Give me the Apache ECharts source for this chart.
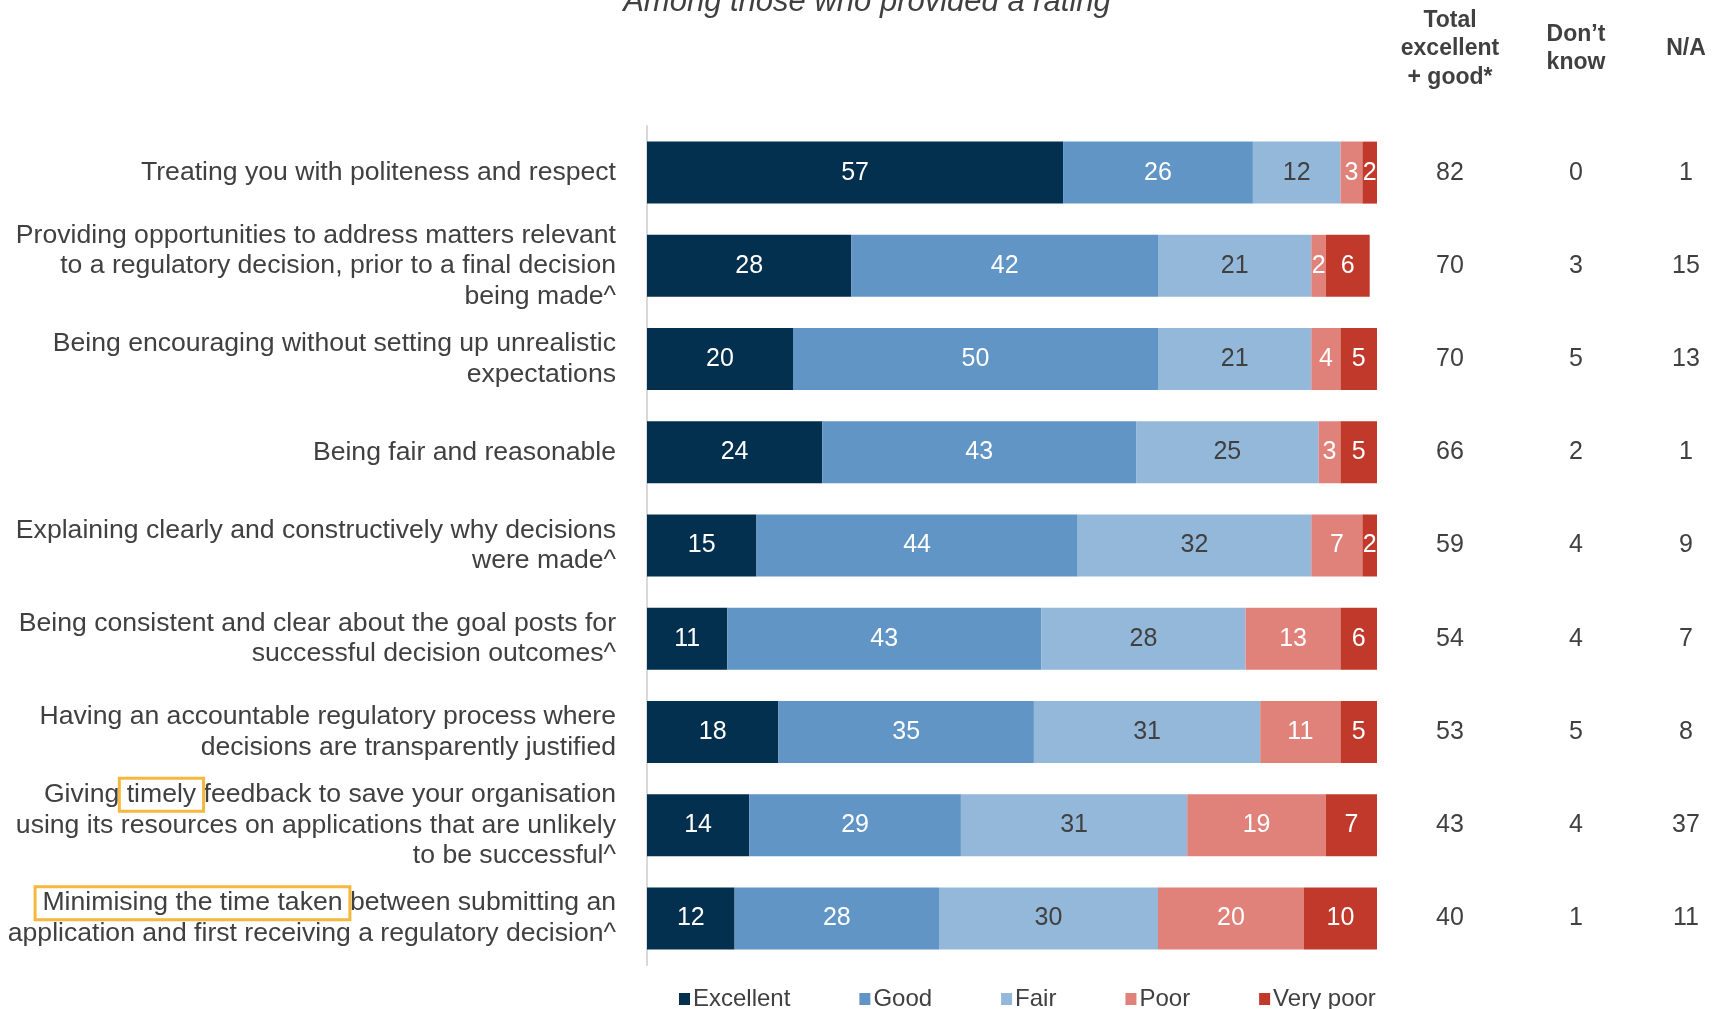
<!DOCTYPE html>
<html>
<head>
<meta charset="utf-8">
<script src="https://cdn.jsdelivr.net/npm/echarts@6/dist/echarts.min.js"></script>
<style>
  html, body { margin: 0; padding: 0; background: #ffffff; }
  #chart { width: 1721px; height: 1009px; }
</style>
</head>
<body>
<div id="chart"></div>
<script>
// Statements rated, top to bottom
const categories = [
  'Treating you with politeness and respect',
  'Providing opportunities to address matters relevant\nto a regulatory decision, prior to a final decision\nbeing made^',
  'Being encouraging without setting up unrealistic\nexpectations',
  'Being fair and reasonable',
  'Explaining clearly and constructively why decisions\nwere made^',
  'Being consistent and clear about the goal posts for\nsuccessful decision outcomes^',
  'Having an accountable regulatory process where\ndecisions are transparently justified',
  'Giving timely feedback to save your organisation\nusing its resources on applications that are unlikely\nto be successful^',
  'Minimising the time taken between submitting an\napplication and first receiving a regulatory decision^'
];

// Rating shares (%), among those who provided a rating
const excellent = [57, 28, 20, 24, 15, 11, 18, 14, 12];
const good      = [26, 42, 50, 43, 44, 43, 35, 29, 28];
const fair      = [12, 21, 21, 25, 32, 28, 31, 31, 30];
const poor      = [3, 2, 4, 3, 7, 13, 11, 19, 20];
const veryPoor  = [2, 6, 5, 5, 2, 6, 5, 7, 10];

// Side columns
const totalExcellentGood = [82, 70, 70, 66, 59, 54, 53, 43, 40];
const dontKnow           = [0, 3, 5, 2, 4, 4, 5, 4, 1];
const notApplicable      = [1, 15, 13, 1, 9, 7, 8, 37, 11];

const seriesNames = ['Excellent', 'Good', 'Fair', 'Poor', 'Very poor'];
const seriesValues = [excellent, good, fair, poor, veryPoor];
const seriesColors = ['#03304f', '#6095c6', '#94b8da', '#e0827a', '#c0392b'];
const labelColors = ['#ffffff', '#ffffff', '#404040', '#ffffff', '#ffffff'];

// Words outlined in the statement labels
const highlights = { 7: ' timely ', 8: ' Minimising the time taken ' };

const TEXT = '#404040';
const FONT = '"Liberation Sans", Arial, sans-serif';
const LABEL_SIZE = 26.6;

const chart = echarts.init(document.getElementById('chart'), null, { renderer: 'canvas' });

const GRID = { left: 647, top: 126, width: 730, height: 839 };
const gridRight = GRID.left + GRID.width;

function sideAxis(values, centerX) {
  return {
    type: 'category',
    inverse: true,
    position: 'right',
    data: values.map(String),
    axisLine: { show: false },
    axisTick: { show: false },
    splitLine: { show: false },
    axisLabel: {
      margin: centerX - gridRight,
      align: 'center',
      color: TEXT,
      fontFamily: FONT,
      fontSize: 25
    }
  };
}

const option = {
  backgroundColor: '#ffffff',
  animation: false,
  textStyle: { fontFamily: FONT },
  grid: GRID,
  legend: {
    data: seriesNames,
    left: 679,
    top: 987,
    padding: 0,
    itemGap: 69,
    itemWidth: 11,
    itemHeight: 12,
    icon: 'rect',
    textStyle: { color: TEXT, fontSize: 24, fontFamily: FONT, padding: [0, 0, 0, -2] }
  },
  xAxis: { type: 'value', min: 0, max: 100, show: false },
  yAxis: [
    {
      type: 'category',
      inverse: true,
      data: categories,
      axisLine: { show: true, lineStyle: { color: '#d9d9d9', width: 2 } },
      axisTick: { show: false },
      axisLabel: {
        margin: 31,
        align: 'right',
        color: TEXT,
        fontFamily: FONT,
        fontSize: LABEL_SIZE,
        lineHeight: 30.5,
        formatter: function (value, index) {
          const word = highlights[index];
          if (!word) return value;
          const plain = word.trim();
          const pos = value.indexOf(plain);
          // include the spaces around the word inside the outlined box
          return value.slice(0, pos).replace(/ $/, '') + '{hl|' + word + '}' +
                 value.slice(pos + plain.length).replace(/^ /, '');
        },
        rich: {
          hl: {
            color: TEXT,
            fontFamily: FONT,
            fontSize: LABEL_SIZE,
            lineHeight: 30.5,
            borderColor: '#f5b83d',
            borderWidth: 3,
            padding: [3, 0, 3, 0]
          }
        }
      }
    },
    sideAxis(totalExcellentGood, 1450),
    sideAxis(dontKnow, 1576),
    sideAxis(notApplicable, 1686)
  ],
  graphic: [
    {
      type: 'text', x: 867, y: -13,
      style: {
        text: 'Among those who provided a rating', fill: TEXT,
        font: 'italic 31px "Liberation Sans", Arial, sans-serif', textAlign: 'center', textVerticalAlign: 'top'
      }
    },
    {
      type: 'text', x: 1450, y: 6,
      style: {
        text: 'Total\nexcellent\n+ good*', fill: TEXT, lineHeight: 28.5,
        font: 'bold 23px "Liberation Sans", Arial, sans-serif', textAlign: 'center', textVerticalAlign: 'top'
      }
    },
    {
      type: 'text', x: 1576, y: 20,
      style: {
        text: 'Don\u2019t\nknow', fill: TEXT, lineHeight: 28.5,
        font: 'bold 23px "Liberation Sans", Arial, sans-serif', textAlign: 'center', textVerticalAlign: 'top'
      }
    },
    {
      type: 'text', x: 1686, y: 34,
      style: {
        text: 'N/A', fill: TEXT, lineHeight: 28.5,
        font: 'bold 23px "Liberation Sans", Arial, sans-serif', textAlign: 'center', textVerticalAlign: 'top'
      }
    }
  ],
  series: seriesNames.map(function (name, i) {
    return {
      name: name,
      type: 'bar',
      stack: 'rating',
      xAxisIndex: 0,
      yAxisIndex: 0,
      barWidth: 62,
      data: seriesValues[i],
      itemStyle: { color: seriesColors[i] },
      label: {
        show: true,
        position: 'inside',
        color: labelColors[i],
        fontFamily: FONT,
        fontSize: 25
      }
    };
  })
};

chart.setOption(option);
</script>
</body>
</html>
